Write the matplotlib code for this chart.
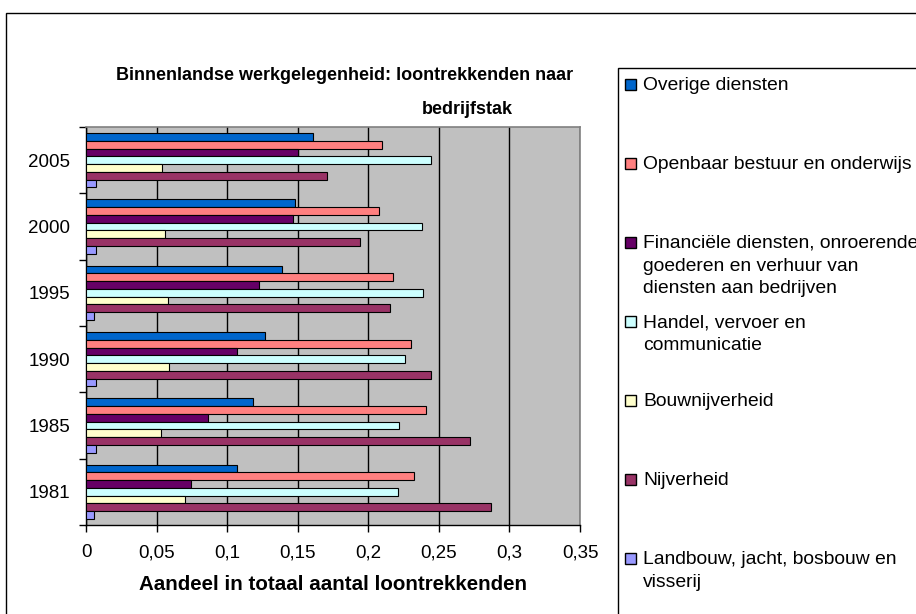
import matplotlib

matplotlib.use("Agg")

import matplotlib.pyplot as plt
import numpy as np
from matplotlib.patches import Rectangle
from matplotlib.ticker import FuncFormatter, MultipleLocator


YEARS = ["1981", "1985", "1990", "1995", "2000", "2005"]

SECTORS = [
    "Overige diensten",
    "Openbaar bestuur en onderwijs",
    "Financiële diensten, onroerende\ngoederen en verhuur van\ndiensten aan bedrijven",
    "Handel, vervoer en\ncommunicatie",
    "Bouwnijverheid",
    "Nijverheid",
    "Landbouw, jacht, bosbouw en\nvisserij",
]
COLORS = ["#0066CC", "#FF8080", "#660066", "#CCFFFF", "#FFFFCC", "#993366", "#9999FF"]

# share per sector, one value per year (1981 .. 2005)
overige = [0.107, 0.118, 0.127, 0.139, 0.148, 0.161]
openbaar = [0.2325, 0.241, 0.230, 0.2175, 0.2075, 0.210]
financieel = [0.0745, 0.0865, 0.107, 0.1225, 0.147, 0.150]
handel = [0.221, 0.2217, 0.226, 0.239, 0.238, 0.2445]
bouw = [0.070, 0.053, 0.0585, 0.058, 0.056, 0.054]
nijverheid = [0.287, 0.272, 0.2445, 0.2155, 0.194, 0.171]
landbouw = [0.006, 0.007, 0.007, 0.006, 0.007, 0.007]
SERIES = [overige, openbaar, financieel, handel, bouw, nijverheid, landbouw]

plt.rcParams["font.family"] = ["Liberation Sans", "DejaVu Sans"]

W, H = 916, 614
fig = plt.figure(figsize=(W / 100, H / 100), dpi=100)


def fx(px):
    return px / W


def fy(py):
    return 1 - py / H


# chart area border (runs off the right and bottom edge)
fig.patches.append(
    Rectangle((fx(6), -0.1), 1.2, fy(13) + 0.1, transform=fig.transFigure,
              fill=False, edgecolor="black", linewidth=1.0)
)

ax = fig.add_axes([fx(86), fy(525), fx(580) - fx(86), fy(127) - fy(525)])
ax.set_facecolor("#C0C0C0")

group_pos = np.arange(len(YEARS))
bar_h = 54 / 66 / len(SECTORS)
for i, (values, color) in enumerate(zip(SERIES, COLORS)):
    offset = (len(SECTORS) / 2 - 0.5 - i) * bar_h
    ax.barh(group_pos + offset, values, height=bar_h, color=color,
            edgecolor="black", linewidth=0.8, zorder=3)

ax.set_xlim(0, 0.35)
ax.set_ylim(-0.5, len(YEARS) - 0.5)
ax.xaxis.set_major_locator(MultipleLocator(0.05))
ax.xaxis.set_major_formatter(
    FuncFormatter(lambda v, _: f"{v:g}".replace(".", ","))
)
ax.grid(axis="x", color="black", linewidth=1.0, zorder=1)

ax.set_yticks(np.arange(-0.5, len(YEARS)), minor=False)
ax.set_yticklabels([])
ax.set_yticks(group_pos, minor=True)
ax.set_yticklabels(YEARS, minor=True)
ax.tick_params(axis="y", which="major", length=5, width=1, direction="out")
ax.tick_params(axis="y", which="minor", length=0, pad=11.5, labelsize=13.5)
ax.tick_params(axis="x", length=5, width=1, direction="out", pad=9, labelsize=13.5)

for side in ("top", "right"):
    ax.spines[side].set_color("#808080")
    ax.spines[side].set_linewidth(1.2)
for side in ("left", "bottom"):
    ax.spines[side].set_color("black")
    ax.spines[side].set_linewidth(1.0)

ax.set_xlabel("Aandeel in totaal aantal loontrekkenden", fontsize=14.8,
              fontweight="bold", labelpad=10)

fig.text(fx(345), fy(76), "Binnenlandse werkgelegenheid: loontrekkenden naar",
         ha="center", va="center", fontsize=13, fontweight="bold")
fig.text(fx(467), fy(110), "bedrijfstak", ha="center", va="center",
         fontsize=13, fontweight="bold")

# legend box, drawn by hand so every entry gets the same slot
fig.patches.append(
    Rectangle((fx(618), -0.1), 1.0, fy(68) + 0.1, transform=fig.transFigure,
              fill=False, edgecolor="black", linewidth=1.0)
)
for i, (name, color) in enumerate(zip(SECTORS, COLORS)):
    y = 84 + 79 * i
    fig.patches.append(
        Rectangle((fx(625), fy(y + 5.5)), fx(11), fy(y - 5.5) - fy(y + 5.5),
                  transform=fig.transFigure, facecolor=color,
                  edgecolor="black", linewidth=1.0)
    )
    fig.text(fx(643), fy(y - 7), name, ha="left", va="top",
             fontsize=13.9, linespacing=1.43)

fig.savefig("out.png", dpi=100)
